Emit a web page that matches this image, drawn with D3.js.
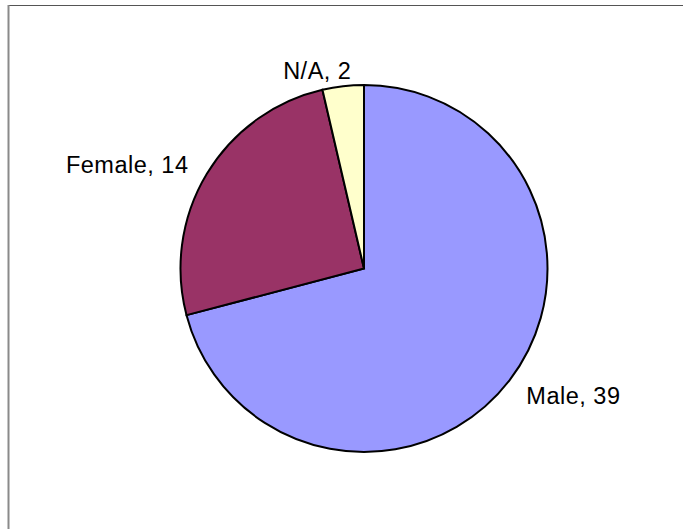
<!DOCTYPE html>
<html>
<head>
<meta charset="utf-8">
<script src="https://cdn.jsdelivr.net/npm/d3@7"></script>
<style>
  html, body { margin: 0; padding: 0; background: #fff; }
  svg { display: block; }
</style>
</head>
<body>
<svg id="chart" width="683" height="529"></svg>
<script>
// Respondent counts by gender
const categories = ["Male", "Female", "N/A"];
const values = [39, 14, 2];
const colors = ["#9999FF", "#993366", "#FFFFCC"];

const W = 683, H = 529;
const cx = 364, cy = 268.5, radius = 183.5, labelRadius = 205;

const svg = d3.select("#chart");

// chart area frame (top and left edges visible)
svg.append("line").attr("x1", 8).attr("x2", W).attr("y1", 5.5).attr("y2", 5.5)
  .attr("stroke", "#555").attr("stroke-width", 1.2);
svg.append("line").attr("x1", 8.5).attr("x2", 8.5).attr("y1", 5).attr("y2", H)
  .attr("stroke", "#8a8a8a").attr("stroke-width", 2);

const data = categories.map((c, i) => ({ name: c, value: values[i], color: colors[i] }));

const pie = d3.pie().value(d => d.value).sort(null);
const arc = d3.arc().innerRadius(0).outerRadius(radius);

const g = svg.append("g").attr("transform", `translate(${cx},${cy})`);
const arcs = pie(data);

g.selectAll("path.slice").data(arcs).join("path")
  .attr("class", "slice")
  .attr("d", arc)
  .attr("fill", d => d.data.color)
  .attr("stroke", "#000")
  .attr("stroke-width", 2)
  .attr("stroke-linejoin", "miter");

// data labels outside each slice: "Category, value"
// the label box slides toward the side of the pie its slice faces
g.selectAll("text.lbl").data(arcs).join("text")
  .attr("class", "lbl")
  .attr("font-family", "'Liberation Sans', Arial, sans-serif")
  .attr("font-size", 23.5)
  .attr("letter-spacing", 0.5)
  .attr("fill", "#000")
  .attr("text-anchor", "start")
  .attr("dominant-baseline", "central")
  .text(d => `${d.data.name}, ${d.data.value}`)
  .each(function (d) {
    const a = (d.startAngle + d.endAngle) / 2;
    const s = Math.sin(a), c = -Math.cos(a);
    const w = this.getComputedTextLength();
    const f = 0.5 - 0.5 * Math.max(-1, Math.min(1, s * 6));
    d3.select(this)
      .attr("x", labelRadius * s - f * w)
      .attr("y", labelRadius * c + 2 + 4 * Math.max(0, -c - 0.9) * 10);
  });
</script>
</body>
</html>
